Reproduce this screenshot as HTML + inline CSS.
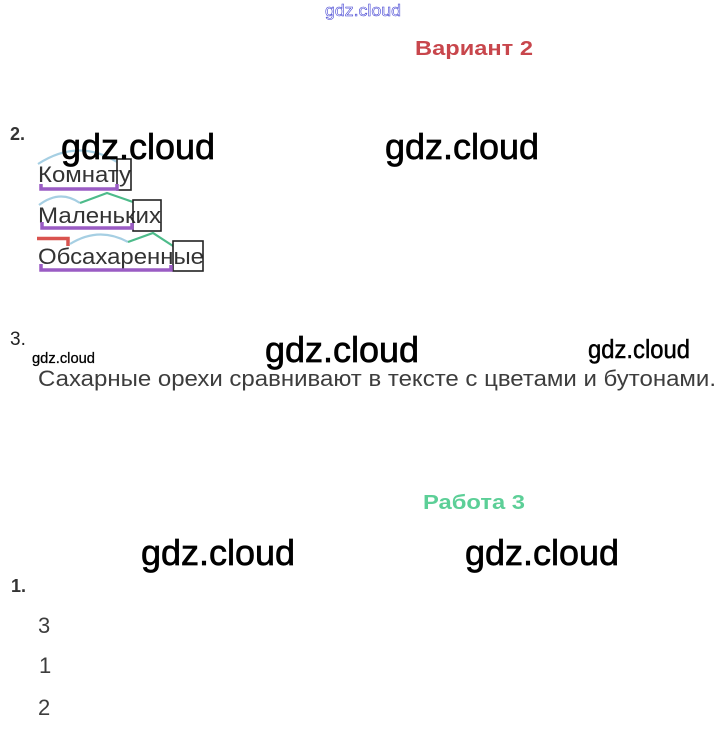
<!DOCTYPE html>
<html>
<head>
<meta charset="utf-8">
<style>
  html,body{margin:0;padding:0;background:#fff;}
  svg{display:block;}
  text{font-family:"Liberation Sans","DejaVu Sans",sans-serif;}
  .wm{stroke:#000;stroke-width:0.7;}
</style>
</head>
<body>
<svg width="727" height="729" viewBox="0 0 727 729" xmlns="http://www.w3.org/2000/svg">
  <rect width="727" height="729" fill="#fff"/>

  <!-- top outlined watermark -->
  <text x="325" y="16" font-size="17" fill="#fff" stroke="#3b3bd1" stroke-width="0.55" textLength="76" lengthAdjust="spacingAndGlyphs">gdz.cloud</text>

  <!-- Вариант 2 -->
  <text x="415" y="55" font-size="20" font-weight="bold" fill="#c8464c" textLength="118" lengthAdjust="spacingAndGlyphs">Вариант 2</text>

  <!-- 2. -->
  <text x="10" y="140" font-size="18" font-weight="bold" fill="#333">2.</text>

  <!-- Word 1: Комнату -->
  <path d="M38,164 Q78,138 117,162" fill="none" stroke="#a6cfe3" stroke-width="2.2"/>
  <text x="38" y="182" font-size="22" fill="#333" textLength="93" lengthAdjust="spacingAndGlyphs">Комнату</text>
  <rect x="117" y="159" width="14" height="31" fill="none" stroke="#222" stroke-width="1.6"/>
  <path d="M41,184 V189 H117 V184" fill="none" stroke="#9a5cc4" stroke-width="3.5"/>

  <!-- Word 2: Маленьких -->
  <path d="M39,205 Q60,189 80,203" fill="none" stroke="#a6cfe3" stroke-width="2.2"/>
  <path d="M80,203 L107,193 L133,202" fill="none" stroke="#4dbb8a" stroke-width="2.2"/>
  <text x="38" y="223" font-size="22" fill="#333" textLength="123" lengthAdjust="spacingAndGlyphs">Маленьких</text>
  <rect x="133" y="200" width="28" height="31" fill="none" stroke="#222" stroke-width="1.6"/>
  <path d="M42,222 V228 H132 V223" fill="none" stroke="#9a5cc4" stroke-width="3.5"/>

  <!-- Word 3: Обсахаренные -->
  <path d="M37,238.5 H68 V246" fill="none" stroke="#d9534f" stroke-width="3.5"/>
  <path d="M70,244 Q99,226 128,242" fill="none" stroke="#a6cfe3" stroke-width="2.2"/>
  <path d="M128,242 L153,233 L173,246" fill="none" stroke="#4dbb8a" stroke-width="2.2"/>
  <text x="38" y="264" font-size="22" fill="#333" textLength="166" lengthAdjust="spacingAndGlyphs">Обсахаренные</text>
  <rect x="173" y="241" width="30" height="30" fill="none" stroke="#222" stroke-width="1.6"/>
  <path d="M41,264 V270 H171 V265" fill="none" stroke="#9a5cc4" stroke-width="3.5"/>

  <!-- 3. -->
  <text x="10" y="345" font-size="19" fill="#222">3.</text>
  <text x="38" y="386" font-size="22" fill="#3d3d3d" textLength="678" lengthAdjust="spacingAndGlyphs">Сахарные орехи сравнивают в тексте с цветами и бутонами.</text>

  <!-- Работа 3 -->
  <text x="423" y="509" font-size="20" font-weight="bold" fill="#5ccf97" textLength="102" lengthAdjust="spacingAndGlyphs">Работа 3</text>

  <!-- 1. list -->
  <text x="11" y="592" font-size="18" font-weight="bold" fill="#333">1.</text>
  <text x="38" y="633" font-size="22" fill="#3d3d3d">3</text>
  <text x="39" y="673" font-size="22" fill="#3d3d3d">1</text>
  <text x="38" y="715" font-size="22" fill="#3d3d3d">2</text>

  <!-- watermarks -->
  <text class="wm" x="61" y="159" font-size="36" fill="#000" textLength="154" lengthAdjust="spacingAndGlyphs">gdz.cloud</text>
  <text class="wm" x="385" y="159" font-size="36" fill="#000" textLength="154" lengthAdjust="spacingAndGlyphs">gdz.cloud</text>
  <text x="32" y="363" font-size="15" fill="#000" stroke="#000" stroke-width="0.3" textLength="63" lengthAdjust="spacingAndGlyphs">gdz.cloud</text>
  <text class="wm" x="265" y="362" font-size="36" fill="#000" textLength="154" lengthAdjust="spacingAndGlyphs">gdz.cloud</text>
  <text x="588" y="358" font-size="26" fill="#000" stroke="#000" stroke-width="0.5" textLength="102" lengthAdjust="spacingAndGlyphs">gdz.cloud</text>
  <text class="wm" x="141" y="565" font-size="36" fill="#000" textLength="154" lengthAdjust="spacingAndGlyphs">gdz.cloud</text>
  <text class="wm" x="465" y="565" font-size="36" fill="#000" textLength="154" lengthAdjust="spacingAndGlyphs">gdz.cloud</text>
</svg>
</body>
</html>
